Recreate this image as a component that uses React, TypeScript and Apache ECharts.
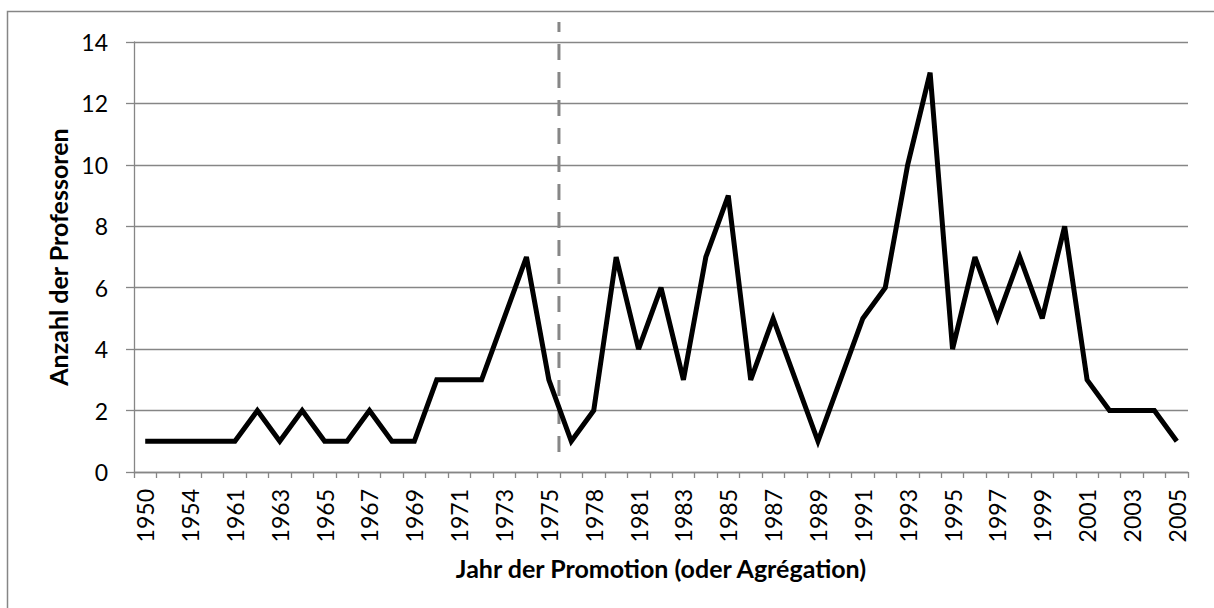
import React, { useEffect, useRef } from "react";
import * as echarts from "echarts";

const years = [
  "1950", "1952", "1954", "1958", "1961", "1962", "1963", "1964", "1965", "1966",
  "1967", "1968", "1969", "1970", "1971", "1972", "1973", "1974", "1975", "1977",
  "1978", "1980", "1981", "1982", "1983", "1984", "1985", "1986", "1987", "1988",
  "1989", "1990", "1991", "1992", "1993", "1994", "1995", "1996", "1997", "1998",
  "1999", "2000", "2001", "2002", "2003", "2004", "2005",
];

const professorCounts = [
  1, 1, 1, 1, 1, 2, 1, 2, 1, 1,
  2, 1, 1, 3, 3, 3, 5, 7, 3, 1,
  2, 7, 4, 6, 3, 7, 9, 3, 5, 3,
  1, 3, 5, 6, 10, 13, 4, 7, 5, 7,
  5, 8, 3, 2, 2, 2, 1,
];

const yMin = 0;
const yMax = 14;
const yStep = 2;

// position of the dashed marker line: between category 18 (1975) and 19
const markerIndex = 18;
const markerFraction = 0.45;
const markerTopValue = 14.65;
const markerBottomValue = 0.65;

const xTitle = "Jahr der Promotion (oder Agrégation)";
const yTitle = "Anzahl der Professoren";

const GRAY = "#868686";
const FONT = "Lato, 'Open Sans', sans-serif";

export default function App() {
  const ref = useRef<HTMLDivElement>(null);

  useEffect(() => {
    if (!ref.current) return;
    const chart = echarts.init(ref.current, null, { renderer: "svg" });
    chart.setOption({
      animation: false,
      backgroundColor: "#ffffff",
      grid: { left: 134, right: 26, top: 42, bottom: 136, containLabel: false },
      xAxis: {
        type: "category",
        data: years,
        boundaryGap: true,
        axisLine: { show: true, lineStyle: { color: GRAY, width: 1.3 } },
        axisTick: { show: true, interval: 0, length: 6, lineStyle: { color: GRAY, width: 1.3 } },
        axisLabel: {
          interval: 1,
          rotate: 90,
          margin: 17,
          color: "#000",
          fontFamily: FONT,
          fontSize: 23,
        },
        splitLine: { show: false },
      },
      yAxis: {
        type: "value",
        min: yMin,
        max: yMax,
        interval: yStep,
        axisLine: { show: true, lineStyle: { color: GRAY, width: 1.3 } },
        axisTick: { show: true, length: 8, lineStyle: { color: GRAY, width: 1.3 } },
        axisLabel: {
          margin: 26,
          color: "#000",
          fontFamily: FONT,
          fontSize: 23,
        },
        splitLine: { show: true, lineStyle: { color: GRAY, width: 1.3 } },
      },
      series: [
        {
          type: "line",
          data: professorCounts,
          symbol: "none",
          lineStyle: { color: "#000", width: 5, join: "miter", miterLimit: 3 },
          z: 5,
        },
      ],
    });

    const xA = chart.convertToPixel({ xAxisIndex: 0 }, markerIndex) as number;
    const xB = chart.convertToPixel({ xAxisIndex: 0 }, markerIndex + 1) as number;
    const xPix = xA + (xB - xA) * markerFraction;
    const yTop = chart.convertToPixel({ yAxisIndex: 0 }, markerTopValue) as number;
    const yBot = chart.convertToPixel({ yAxisIndex: 0 }, markerBottomValue) as number;
    const gridTop = chart.convertToPixel({ yAxisIndex: 0 }, yMax) as number;
    const gridBot = chart.convertToPixel({ yAxisIndex: 0 }, yMin) as number;
    const x0 = chart.convertToPixel({ xAxisIndex: 0 }, 0) as number;
    const xN = chart.convertToPixel({ xAxisIndex: 0 }, years.length - 1) as number;

    chart.setOption({
      graphic: [
        {
          type: "rect",
          shape: { x: 7.5, y: 11.5, width: 1220, height: 620 },
          style: { fill: "none", stroke: GRAY, lineWidth: 1.5 },
          silent: true,
          z: 0,
        },
        {
          type: "line",
          shape: { x1: xPix, y1: yTop, x2: xPix, y2: yBot },
          style: { stroke: GRAY, lineWidth: 3, lineDash: [16, 12], lineDashOffset: 6 },
          silent: true,
          z: 3,
        },
        {
          type: "text",
          x: (x0 + xN) / 2,
          y: 568,
          style: {
            text: xTitle,
            fontFamily: FONT,
            fontWeight: "bold",
            fontSize: 25,
            fill: "#000",
            align: "center",
            verticalAlign: "middle",
          },
        },
        {
          type: "text",
          x: 58,
          y: (gridTop + gridBot) / 2,
          rotation: Math.PI / 2,
          style: {
            text: yTitle,
            fontFamily: FONT,
            fontWeight: "bold",
            fontSize: 25,
            fill: "#000",
            align: "center",
            verticalAlign: "middle",
          },
        },
      ],
    });

    return () => chart.dispose();
  }, []);

  return (
    <div
      ref={ref}
      style={{ position: "fixed", left: 0, top: 0, width: 1214, height: 608, background: "#fff" }}
    />
  );
}
